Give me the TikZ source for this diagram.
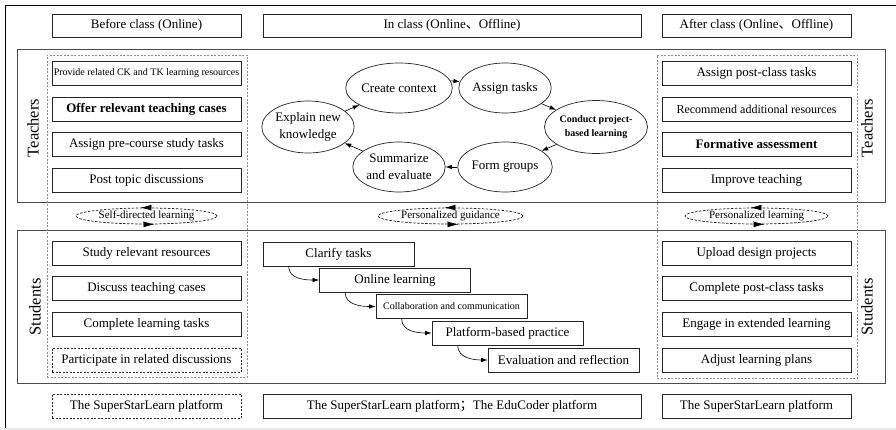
\documentclass[tikz,border=0pt]{standalone}
\usepackage{fontspec}
\setmainfont{Liberation Serif}
\newfontfamily\cjk{Noto Sans CJK SC}
\usetikzlibrary{shapes.geometric,arrows.meta,calc}
\begin{document}
\begin{tikzpicture}[x=1pt,y=-1pt,
  arr/.style={-{Latex[length=6.5pt,width=4.5pt]}, line width=0.6pt},
  cyc/.style={-{Latex[length=11pt,width=6pt]}, line width=0.7pt, dash pattern=on 2.5pt off 1.5pt},
  box/.style={draw=black!85, line width=0.7pt, minimum width=189pt, minimum height=24pt, inner sep=1pt, font=\fontsize{13}{16}\selectfont},
  hdr/.style={box, minimum height=23pt},
  dbox/.style={box, dash pattern=on 2pt off 1.5pt},
  step box/.style={box, minimum width=151pt},
  bigbox/.style={draw=black!70, line width=0.9pt, minimum width=868pt, minimum height=153pt, inner sep=0pt},
  colbox/.style={draw=black!45, line width=0.6pt, dash pattern=on 2pt off 1.5pt, minimum width=200pt, minimum height=322pt, inner sep=0pt},
  rot/.style={rotate=90, font=\fontsize{16.5}{18}\selectfont, inner sep=0pt},
  ell/.style={ellipse, draw=black!85, line width=0.7pt, minimum width=89pt, minimum height=50pt, inner sep=0pt, align=center, font=\fontsize{13}{16.5}\selectfont},
  cell/.style={ellipse, draw=black!90, line width=0.7pt, dash pattern=on 2.5pt off 1.5pt, minimum height=16pt, inner sep=0pt, font=\fontsize{11}{13}\selectfont}
]
\useasboundingbox (0,0) rectangle (896,430);
% outer frame
\draw[line width=0.8pt] (5,428) -- (5,5) -- (896,5);
\fill[black!8] (0,427.8) rectangle (896,430);

% headers
\node[hdr] (h1) at (146.5,25.5) {Before class (Online)};
\node[hdr, minimum width=378pt] (h2) at (452,25.5) {In class (Online{\cjk 、}Offline)};
\node[hdr] (h3) at (756.5,25.5) {After class (Online{\cjk 、}Offline)};

% big boxes
\node[bigbox] (tbox) at (451,125.5) {};
\node[bigbox] (sbox) at (451,306.5) {};

% dashed columns
\node[colbox] (lcol) at (147,216) {};
\node[colbox, minimum height=323pt] (rcol) at (757,216.5) {};

% side labels
\node[rot] (tl) at (33,128) {Teachers};
\node[rot] (tr) at (867,128) {Teachers};
\node[rot] (sl) at (35,307) {Students};
\node[rot] (sr) at (867,307) {Students};

% teacher boxes left
\node[box, font=\fontsize{10}{12}\selectfont] (t1) at (146.5,73) {Provide related CK and TK learning resources};
\node[box, font=\fontsize{13}{16}\selectfont\bfseries] (t2) at (146.5,109) {Offer relevant teaching cases};
\node[box] (t3) at (146.5,144) {Assign pre-course study tasks};
\node[box] (t4) at (146.5,180) {Post topic discussions};

% teacher boxes right
\node[box] (r1) at (756.5,73) {Assign post-class tasks};
\node[box, font=\fontsize{12}{14}\selectfont] (r2) at (756.5,109) {Recommend additional resources};
\node[box, font=\fontsize{13}{16}\selectfont\bfseries] (r3) at (756.5,144) {Formative assessment};
\node[box] (r4) at (756.5,180) {Improve teaching};

% students left
\node[box] (s1) at (146.5,253.5) {Study relevant resources};
\node[box] (s2) at (146.5,288.5) {Discuss teaching cases};
\node[box] (s3) at (146.5,324) {Complete learning tasks};
\node[dbox] (s4) at (146.5,360) {Participate in related discussions};

% students right
\node[box] (u1) at (756.5,253.5) {Upload design projects};
\node[box] (u2) at (756.5,288.5) {Complete post-class tasks};
\node[box] (u3) at (756.5,324) {Engage in extended learning};
\node[box] (u4) at (756.5,360) {Adjust learning plans};

% platforms
\node[dbox] (p1) at (146.5,406) {The SuperStarLearn platform};
\node[box, minimum width=378pt] (p2) at (452,406) {The SuperStarLearn platform{\cjk ；}The EduCoder platform};
\node[box] (p3) at (756.5,406) {The SuperStarLearn platform};

% in-class cycle
\node[ell] (create) at (399,88) {Create context};
\node[ell] (assign) at (505,88) {Assign tasks};
\node[ell, minimum height=53pt, font=\fontsize{10}{13.3}\selectfont\bfseries] (conduct) at (596,127) {Conduct project-\\based learning};
\node[ell] (form) at (505,167) {Form groups};
\node[ell] (summ) at (399,167) {Summarize\\and evaluate};
\node[ell, minimum height=52pt] (explain) at (308,127) {Explain new\\knowledge};
\draw[arr] (create.8) -- (assign.172);
\draw[arr] (assign) -- (conduct);
\draw[arr] (conduct) -- (form);
\draw[arr] (form) -- (summ);
\draw[arr] (summ) -- (explain);
\draw[arr] (explain) -- (create);

% staircase
\node[step box] (c1) at (338.5,254) {Clarify tasks};
\node[step box] (c2) at (395,280) {Online learning};
\node[step box, font=\fontsize{10}{12}\selectfont] (c3) at (451.5,306.5) {Collaboration and communication};
\node[step box] (c4) at (507.5,333) {Platform-based practice};
\node[step box] (c5) at (563.5,360) {Evaluation and reflection};
\foreach \a/\b in {c1/c2,c2/c3,c3/c4,c4/c5}{
  \draw[arr] ([xshift=26pt]\a.south west) to[out=-90,in=180] (\b.west);
}

% cycle ellipses
\node[cell, minimum width=141pt] (e1) at (146.5,216) {Self-directed learning};
\node[cell, minimum width=145pt] (e2) at (450.5,216) {Personalized guidance};
\node[cell, minimum width=143pt] (e3) at (756.5,216) {Personalized learning};
\foreach \e in {e1,e2,e3}{
  \draw[cyc] (\e.100) -- (\e.126);
  \draw[cyc] (\e.-72) -- (\e.-46);
}
\end{tikzpicture}
\end{document}
